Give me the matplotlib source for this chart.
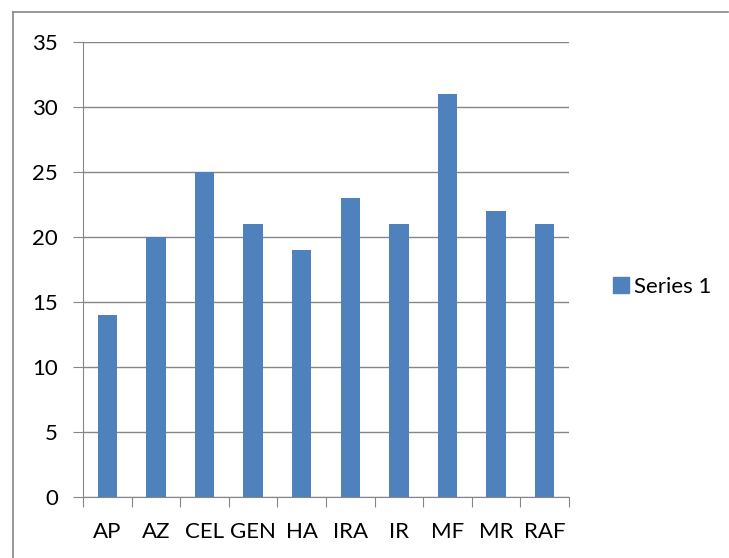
import matplotlib
matplotlib.use('Agg')
import matplotlib.pyplot as plt
from matplotlib.lines import Line2D
import numpy as np

# Valeurs par categorie
categories = ['AP', 'AZ', 'CEL', 'GEN', 'HA', 'IRA', 'IR', 'MF', 'MR', 'RAF']
values = [14, 20, 25, 21, 19, 23, 21, 31, 22, 21]
y_ticks = [0, 5, 10, 15, 20, 25, 30, 35]
series_name = 'Series 1'

plt.rcParams['font.family'] = ['Lato', 'DejaVu Sans']
bar_color = '#4F81BD'
grid_color = '#868686'
fs = 16

fig = plt.figure(figsize=(7.29, 5.58), dpi=100)
W, H = 729, 558
ax = fig.add_axes([83 / W, 1 - 497 / H, (569 - 83) / W, (497 - 42) / H])

x = np.arange(len(categories))
ax.bar(x, values, width=0.4, color=bar_color, zorder=3, label=series_name)

ax.set_xlim(-0.5, len(categories) - 0.5)
ax.set_ylim(0, 35)
ax.set_yticks(y_ticks)
ax.set_yticklabels([str(t) for t in y_ticks], fontsize=fs)
ax.yaxis.grid(True, color=grid_color, linewidth=1, zorder=0)

# ticks x entre les categories, labels au centre
ax.set_xticks(np.arange(len(categories) + 1) - 0.5)
ax.set_xticklabels([])
ax.set_xticks(x, minor=True)
ax.set_xticklabels(categories, minor=True, fontsize=fs)
ax.tick_params(axis='x', which='major', direction='out', length=7, color=grid_color)
ax.tick_params(axis='x', which='minor', length=0, pad=18)
ax.tick_params(axis='y', direction='out', length=7, color=grid_color, pad=11)

for s in ['top', 'right']:
    ax.spines[s].set_visible(False)
for s in ['left', 'bottom']:
    ax.spines[s].set_color(grid_color)

handle = Line2D([], [], marker='s', linestyle='none', markersize=11,
                markerfacecolor=bar_color, markeredgecolor=bar_color)
fig.legend([handle], [series_name], loc='center left',
           bbox_to_anchor=(590 / W, 1 - 287 / H), frameon=False,
           fontsize=fs, handletextpad=0.1, handlelength=1.0)

# cadre du graphique (gauche et haut)
fig.add_artist(Line2D([13 / W, 13 / W], [0, 1 - 12 / H], transform=fig.transFigure,
                      color=grid_color, linewidth=1.2))
fig.add_artist(Line2D([13 / W, 728 / W], [1 - 12 / H, 1 - 12 / H], transform=fig.transFigure,
                      color=grid_color, linewidth=1.2))

fig.savefig('out.png', dpi=100)
